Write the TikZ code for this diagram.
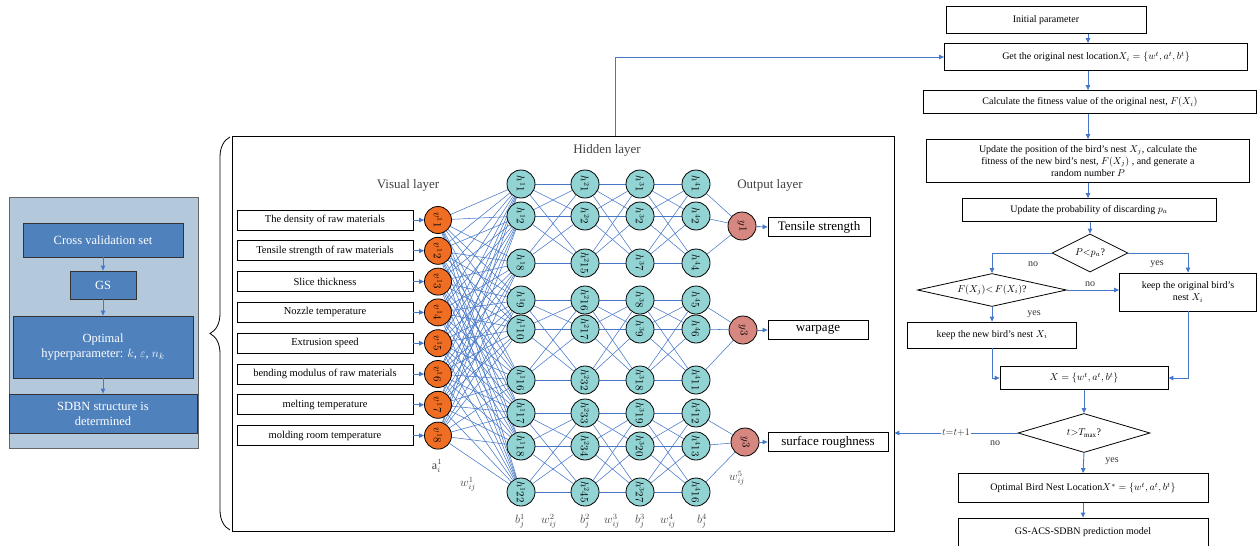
\documentclass[tikz,border=0pt]{standalone}
\usepackage{fontspec}
\setmainfont{Liberation Serif}
\usepackage{amsmath}
\usetikzlibrary{arrows.meta,positioning,shapes,calc,decorations.pathreplacing,backgrounds}
\definecolor{lnblue}{HTML}{4677C8}
\definecolor{panelbg}{HTML}{B4C8DC}
\definecolor{stepblue}{HTML}{4F81BD}
\definecolor{vorange}{HTML}{F06E23}
\definecolor{hteal}{HTML}{92D4D4}
\definecolor{yred}{HTML}{D6877F}
\tikzset{
  arr/.style={-{Triangle[length=5pt,width=4.5pt]},lnblue,line width=0.9pt},
  link/.style={lnblue,line width=0.55pt},
  fbox/.style={draw,line width=0.8pt,align=center,font=\fontsize{10}{12}\selectfont,inner sep=1pt},
  inbox/.style={draw,line width=0.8pt,font=\fontsize{10.5}{12}\selectfont,
                minimum width=176pt,minimum height=20pt,inner sep=0pt},
  outbox/.style={draw,line width=0.8pt,font=\fontsize{13}{14}\selectfont,
                 minimum height=19pt,inner sep=0pt},
  pbox/.style={draw=black!80,line width=0.8pt,fill=stepblue,text=white,align=center,
               font=\fontsize{12.5}{15}\selectfont,inner sep=0pt},
  dec/.style={diamond,draw,line width=0.8pt,inner sep=0.5pt,font=\fontsize{10}{12}\selectfont},
  vnode/.style={circle,draw,line width=0.8pt,fill=vorange,minimum size=27pt,inner sep=0pt,
                font=\fontsize{10.5}{11}\selectfont,rotate=-90},
  hnode/.style={vnode,fill=hteal,minimum size=28pt},
  ynode/.style={vnode,fill=yred,minimum size=28pt},
  lbl/.style={font=\fontsize{13}{15}\selectfont,text=black!75},
  wlbl/.style={font=\fontsize{12}{14}\selectfont,text=black!75},
  yn/.style={font=\fontsize{10}{12}\selectfont,text=black!80},
}
\begin{document}
\begin{tikzpicture}[x=1pt,y=-1pt]
\useasboundingbox (0,0) rectangle (1258,546);
% Left panel: GS search
\node[draw=black!60,line width=0.6pt,fill=panelbg,minimum width=189pt,minimum height=251pt] (panel) at (103.5,322.5) {};
\node[pbox,minimum width=160pt,minimum height=34pt] (cv) at (103,240) {Cross validation set};
\node[pbox,minimum width=66pt,minimum height=28pt] (gs) at (103,285) {GS};
\node[pbox,minimum width=180pt,minimum height=62pt] (hyp) at (103,347)
  {Optimal\\ hyperparameter: $k$, $\varepsilon$, $n_k$};
\node[pbox,minimum width=188pt,minimum height=39pt] (sdbn) at (103,413.5)
  {SDBN structure is\\ determined};
\draw[arr] (cv.south) -- (gs.north);
\draw[arr] (gs.south) -- (hyp.north);
\draw[arr] (hyp.south) -- (sdbn.north);
\draw[decorate,decoration={brace,amplitude=20pt,aspect=0.5},line width=0.8pt] (230,530) -- (230,137);

% Network
\node[draw,line width=0.8pt,minimum width=662pt,minimum height=395pt,inner sep=0pt] (nnbox) at (563,333.5) {};
\node[lbl] (vis) at (408,185) {Visual layer};
\node[lbl] (hid) at (607,150) {Hidden layer};
\node[lbl] (outl) at (770,185) {Output layer};
\foreach \t [count=\i] in {The density of raw materials,Tensile strength of raw materials,
    Slice thickness,Nozzle temperature,Extrusion speed,bending modulus of raw materials,
    melting temperature,molding room temperature}{
  \pgfmathsetmacro\yy{220+30.8*(\i-1)}
  \node[inbox] (in\i) at (325,\yy) {\t};
  \node[vnode] (v\i) at (438,\yy) {$v^{1}\i$};
  \draw[arr] (in\i.east) -- (v\i);
}
\foreach \c/\x/\labs in {1/521/{1,2,8,9,10,16,17,18,22},2/585/{1,2,15,16,17,32,33,34,45},
                         3/640/{1,2,7,8,9,18,19,20,27},4/696/{1,2,4,5,6,11,12,13,16}}{
  \foreach \n [count=\r] in \labs {
    \pgfmathsetmacro\yy{{184,216,263,300,329,380,413,446,492}[\r-1]}
    \node[hnode] (h\c-\r) at (\x,\yy) {$h^{\c}\n$};
  }
}
\node[ynode] (y1) at (742,226) {$y1$};
\node[ynode] (y2) at (743,330) {$y3$};
\node[ynode] (y3) at (745,442) {$y3$};
\node[outbox,minimum width=102pt] (out1) at (819,227) {Tensile strength};
\node[outbox,minimum width=100pt] (out2) at (818,330) {warpage};
\node[outbox,minimum width=120pt] (out3) at (828,442) {surface roughness};
\foreach \k in {1,2,3}{
  \draw[arr] (y\k) -- (out\k.west);
}
% weights
\begin{scope}[on background layer]
\foreach \i in {1,...,8}{
  \foreach \r in {1,...,9}{
    \draw[link] (v\i) -- (h1-\r);
  }
}
\foreach \c in {1,2,3}{
  \pgfmathtruncatemacro\d{\c+1}
  \foreach \g in {0,1,2}{
    \foreach \a in {1,2,3}{
      \foreach \b in {1,2,3}{
        \pgfmathtruncatemacro\p{3*\g+\a}
        \pgfmathtruncatemacro\q{3*\g+\b}
        \draw[link] (h\c-\p) -- (h\d-\q);
      }
    }
  }
}
\foreach \g in {0,1,2}{
  \pgfmathtruncatemacro\k{\g+1}
  \foreach \a in {1,2,3}{
    \pgfmathtruncatemacro\p{3*\g+\a}
    \draw[link] (h4-\p) -- (y\k);
  }
}
\end{scope}
\node[wlbl] (ai) at (437,466) {$\mathrm{a}^{1}_{i}$};
\node[wlbl] (w1) at (468,484) {$w^{1}_{ij}$};
\foreach \x/\t [count=\i] in {520/b^{1}_{j},549/w^{2}_{ij},585/b^{2}_{j},612/w^{3}_{ij},
                              640/b^{3}_{j},668/w^{4}_{ij},702/b^{4}_{j}}{
  \node[wlbl] (bl\i) at (\x,521) {$\t$};
}
\node[wlbl] (w5) at (737,478) {$w^{5}_{ij}$};

% Flowchart: ACS
\coordinate (sp) at (1088,0);
\node[fbox,minimum width=200pt,minimum height=27pt] (init) at (1046,20) {Initial parameter};
\node[fbox,minimum width=303pt,minimum height=27pt] (get) at (1096,57)
  {Get the original nest location$X_i=\{w^t, a^t, b^t\}$};
\node[fbox,minimum width=333pt,minimum height=23pt] (calc) at (1090,102)
  {Calculate the fitness value of the original nest, $F(X_i)$};
\node[fbox,minimum width=323pt,minimum height=43pt] (upd) at (1088,161)
  {Update the position of the bird's nest $X_j$, calculate the\\
   fitness of the new bird's nest, $F(X_j)$ , and generate a\\ random number $P$};
\node[fbox,minimum width=254pt,minimum height=23pt] (prob) at (1089,210)
  {Update the probability of discarding $p_a$};
\node[dec,aspect=2,minimum width=76pt,minimum height=38pt] (dP) at (1090,253) {$P{<}p_a$?};
\node[dec,aspect=4.5,minimum width=149pt,minimum height=33pt] (dF) at (992,290)
  {$F(X_j){<}\,F(X_i)$?};
\node[fbox,minimum width=137pt,minimum height=38pt] (keepO) at (1188,292)
  {keep the original bird's\\ nest $X_i$};
\node[fbox,minimum width=169pt,minimum height=26pt] (keepN) at (992,335)
  {keep the new bird's nest $X_i$};
\node[fbox,minimum width=168pt,minimum height=23pt] (xbox) at (1084,378) {$X=\{w^t, a^t, b^t\}$};
\node[dec,aspect=3.4,minimum width=132pt,minimum height=39pt] (dT) at (1084,433)
  {$t{>}T_{\max}$?};
\node[fbox,minimum width=250pt,minimum height=29pt] (optb) at (1083,488)
  {Optimal Bird Nest Location$X^{*}=\{w^t, a^t, b^t\}$};
\node[fbox,minimum width=250pt,minimum height=28pt] (gsacs) at (1083,532)
  {GS-ACS-SDBN prediction model};
\draw[arr] (init.south -| sp) -- (get.north -| sp);
\draw[arr] (get.south -| sp) -- (calc.north -| sp);
\draw[arr] (calc.south -| sp) -- (upd.north -| sp);
\draw[arr] (upd.south -| sp) -- (prob.north -| sp);
\draw[arr] (prob.south -| dP.north) -- (dP.north);
\draw[arr] (dP.west) -| (dF.north);
\draw[arr] (dP.east) -| (keepO.north);
\draw[arr] (dF.east) -- (keepO.west |- dF.east);
\draw[arr] (dF.south) -- (keepN.north);
\draw[arr] (keepN.south) |- (xbox.west);
\draw[arr] (keepO.south) |- (xbox.east);
\draw[arr] (xbox.south) -- (dT.north);
\draw[arr] (dT.south) -- (optb.north);
\draw[arr] (optb.south) -- (gsacs.north);
\draw[arr] (dT.west) -- (dT.west -| nnbox.east)
  node[pos=0.5,fill=white,inner sep=1pt,yn] (tinc) {$t{=}t{+}1$};
\draw[arr] ([xshift=52pt]nnbox.north) |- (get.west);
\node[yn] (no1) at (1033,264) {no};
\node[yn] (yes1) at (1157,264) {yes};
\node[yn] (no2) at (1090,284) {no};
\node[yn] (yes2) at (1034,314) {yes};
\node[yn] (no3) at (995,443) {no};
\node[yn] (yes3) at (1112,461) {yes};
\end{tikzpicture}
\end{document}
